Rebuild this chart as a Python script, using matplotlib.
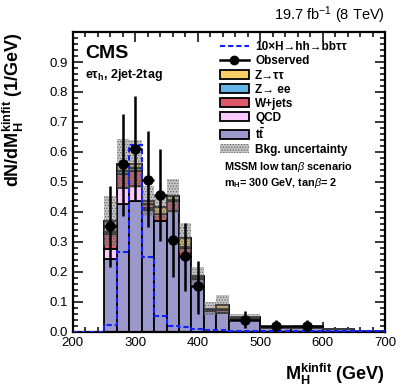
import matplotlib

matplotlib.use("Agg")
import matplotlib.pyplot as plt
import numpy as np
from matplotlib.lines import Line2D
from matplotlib.patches import Patch
from matplotlib.ticker import MultipleLocator, FormatStrFormatter

plt.rcParams["font.family"] = ["Liberation Sans", "DejaVu Sans"]
plt.rcParams["mathtext.fontset"] = "custom"
plt.rcParams["mathtext.rm"] = "Liberation Sans"
plt.rcParams["mathtext.bf"] = "Liberation Sans:bold"
plt.rcParams["mathtext.it"] = "Liberation Sans:italic"
plt.rcParams["hatch.linewidth"] = 0.6

# bin edges (GeV)
edges = [250, 270, 290, 310, 330, 350, 370, 390, 410, 430, 450, 500, 550, 600, 650, 700]

# background components, dN/dM (1/GeV)
ttbar = [0.242, 0.426, 0.437, 0.405, 0.370, 0.401, 0.250, 0.176, 0.068, 0.061, 0.042, 0.011, 0.012, 0.007, 0.002]
qcd = [0.034, 0.055, 0.050, 0.008, 0.000, 0.000, 0.000, 0.000, 0.000, 0.000, 0.000, 0.000, 0.000, 0.000, 0.000]
wjets = [0.050, 0.045, 0.050, 0.012, 0.022, 0.035, 0.030, 0.003, 0.003, 0.012, 0.003, 0.001, 0.002, 0.000, 0.000]
zee = [0.006, 0.010, 0.008, 0.002, 0.002, 0.002, 0.003, 0.001, 0.000, 0.002, 0.000, 0.000, 0.000, 0.000, 0.000]
ztt = [0.038, 0.023, 0.015, 0.008, 0.023, 0.015, 0.031, 0.007, 0.005, 0.015, 0.003, 0.002, 0.002, 0.002, 0.001]
bkg_unc = [0.083, 0.083, 0.080, 0.050, 0.040, 0.056, 0.050, 0.030, 0.022, 0.033, 0.012, 0.006, 0.006, 0.004, 0.002]

# signal (10 x H->hh->bbtautau), including the empty 200-250 bin
sig_edges = [200, 250, 270, 290, 310, 330, 350, 370, 390, 410, 430, 450, 500, 550, 600, 650, 700]
signal = [0.0, 0.023, 0.264, 0.623, 0.248, 0.053, 0.020, 0.015, 0.010, 0.006, 0.004, 0.003, 0.001, 0.001, 0.001, 0.001]

# observed data
obs_x = [260, 280, 300, 320, 340, 360, 380, 400, 475, 525, 575]
obs_xerr = [10, 10, 10, 10, 10, 10, 10, 10, 25, 25, 25]
obs_y = [0.353, 0.559, 0.609, 0.506, 0.457, 0.306, 0.253, 0.151, 0.038, 0.020, 0.020]
obs_lo = [0.139, 0.172, 0.170, 0.158, 0.154, 0.125, 0.116, 0.092, 0.026, 0.017, 0.017]
obs_hi = [0.134, 0.169, 0.178, 0.162, 0.152, 0.147, 0.111, 0.086, 0.032, 0.017, 0.017]

components = [
    ("tt", ttbar, "#9b98cc"),
    ("QCD", qcd, "#facaff"),
    ("W+jets", wjets, "#de5a6a"),
    ("Zee", zee, "#64b6e8"),
    ("Ztt", ztt, "#f8ce68"),
]
unc_face = (0.5, 0.5, 0.5, 0.45)
unc_edge = (0.35, 0.35, 0.35, 0.85)
sig_style = dict(color="#1020ff", linestyle=(0, (2.5, 1.4)), linewidth=1.5)

fig = plt.figure(figsize=(4.07, 3.91), dpi=100)
ax = fig.add_axes([0.179, 0.152, 0.767, 0.766])

left = np.array(edges[:-1], dtype=float)
width = np.diff(edges)
bottom = np.zeros(len(left))
for name, vals, color in components:
    vals = np.array(vals)
    ax.bar(left, vals, width=width, bottom=bottom, align="edge",
           color=color, edgecolor="black", linewidth=1.3, zorder=2)
    bottom = bottom + vals
total = bottom

unc = np.array(bkg_unc)
ax.bar(left, 2 * unc, width=width, bottom=total - unc, align="edge",
       facecolor=unc_face, edgecolor=unc_edge, hatch="......", linewidth=0, zorder=3)

ax.stairs(signal, sig_edges, zorder=4, **sig_style)

ax.errorbar(obs_x, obs_y, xerr=obs_xerr, yerr=[obs_lo, obs_hi], fmt="o",
            color="black", markersize=6.5, elinewidth=1.8, capsize=0, zorder=5)

ax.set_xlim(200, 700)
ax.set_ylim(0, 1.0)
ax.xaxis.set_major_locator(MultipleLocator(100))
ax.xaxis.set_minor_locator(MultipleLocator(20))
ax.yaxis.set_major_locator(MultipleLocator(0.1))
ax.yaxis.set_minor_locator(MultipleLocator(0.02))
ax.yaxis.set_major_formatter(FormatStrFormatter("%.1f"))
ax.tick_params(which="both", direction="in", top=True, right=True, labelsize=9.5, width=1.1)
ax.tick_params(which="major", length=7)
ax.tick_params(which="minor", length=3.5)
ax.tick_params(axis="x", pad=4)
for sp in ax.spines.values():
    sp.set_linewidth(1.6)
ax.set_yticks([t for t in np.arange(0, 1.0, 0.1)])

ax.set_ylabel(r"$\mathbf{dN/dM_H^{kinfit}}$ (1/GeV)", fontsize=13, fontweight="bold", loc="top")
ax.yaxis.set_label_coords(-0.15, 1.0)
ax.set_xlabel(r"$\mathbf{M_H^{kinfit}}$ (GeV)", fontsize=13, fontweight="bold", loc="right")
ax.xaxis.set_label_coords(1.0, -0.10)

fig.text(0.946, 0.962, r"19.7 fb$^{-1}$ (8 TeV)", ha="right", va="center", fontsize=10.5)
ax.text(0.04, 0.93, "CMS", transform=ax.transAxes, fontsize=14, fontweight="bold", va="center")
ax.text(0.04, 0.855, r"$\mathbf{e\tau_h}$, 2jet-2tag", transform=ax.transAxes,
        fontsize=9, fontweight="bold", va="center")

handles = [
    Line2D([], [], **sig_style),
    Line2D([], [], color="black", marker="o", markersize=6, linewidth=1.8),
    Patch(facecolor="#f8ce68", edgecolor="black", linewidth=1.3),
    Patch(facecolor="#64b6e8", edgecolor="black", linewidth=1.3),
    Patch(facecolor="#de5a6a", edgecolor="black", linewidth=1.3),
    Patch(facecolor="#facaff", edgecolor="black", linewidth=1.3),
    Patch(facecolor="#9b98cc", edgecolor="black", linewidth=1.3),
    Patch(facecolor=unc_face, edgecolor=unc_edge, hatch="......", linewidth=0),
]
labels = [
    "10×H→hh→bbττ",
    "Observed",
    "Z→ττ",
    "Z→ ee",
    "W+jets",
    "QCD",
    r"$\mathbf{t\bar{t}}$",
    "Bkg. uncertainty",
]
leg = ax.legend(handles, labels, loc="upper left", bbox_to_anchor=(0.455, 0.985),
                frameon=False, fontsize=8.5, handlelength=2.5, handleheight=0.8,
                handletextpad=0.5, labelspacing=0.18, borderaxespad=0)
for t in leg.get_texts():
    t.set_fontweight("bold")

ax.text(0.485, 0.548, r"MSSM low tan$\beta$ scenario", transform=ax.transAxes,
        fontsize=7.8, fontweight="bold", va="center")
ax.text(0.485, 0.495, r"m$_\mathregular{H}$= 300 GeV, tan$\beta$= 2", transform=ax.transAxes,
        fontsize=7.8, fontweight="bold", va="center")

fig.savefig("out.png", dpi=100)
